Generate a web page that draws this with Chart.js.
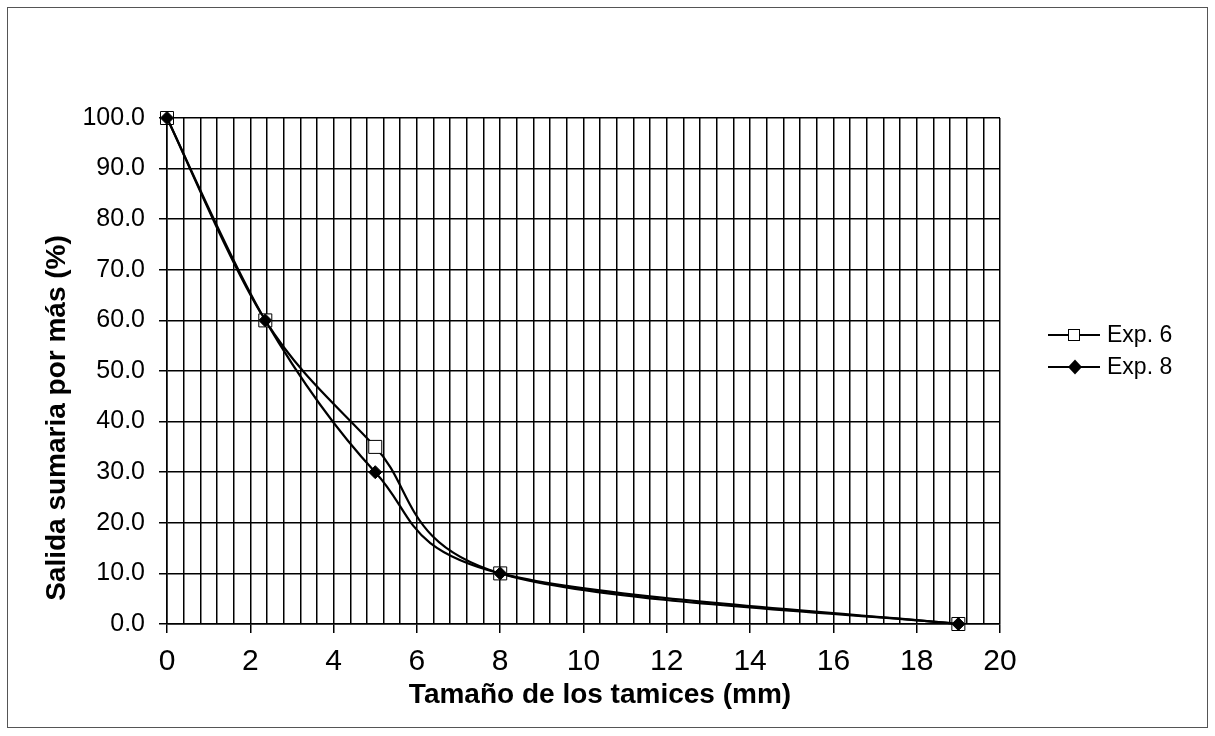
<!DOCTYPE html>
<html><head><meta charset="utf-8">
<script src="https://cdn.jsdelivr.net/npm/chart.js@4.4.0/dist/chart.umd.min.js"></script>
<style>html,body{margin:0;padding:0;background:#fff;}#wrap{width:1215px;height:736px;}</style>
</head><body><div id="wrap"><canvas id="c" width="1215" height="736"></canvas></div>
<script>
// ---- data ----
const sieveSizes = [0, 2.36, 5, 8, 19];
const exp6Values = [100, 60, 35, 10, 0];
const exp8Values = [100, 60, 30, 10, 0];
const seriesLabels = ['Exp. 6', 'Exp. 8'];
const xTitle = 'Tamaño de los tamices (mm)';
const yTitle = 'Salida sumaria por más (%)';

const FONT = "'Liberation Sans', Arial, sans-serif";
const isMajor = v => Math.abs(v / 2 - Math.round(v / 2)) < 1e-6;
const toPoints = vals => sieveSizes.map((x, i) => ({x: x, y: vals[i]}));

// Excel-like smoothing: Catmull-Rom style control points (1/6 of neighbour span)
const smoothPlugin = {
  id: 'excelSmooth',
  afterDatasetUpdate(chart, args) {
    const meta = args.meta;
    const pts = meta.data;
    const n = pts.length;
    for (let i = 0; i < n; i++) {
      const p = pts[i];
      const prev = pts[Math.max(i - 1, 0)];
      const next = pts[Math.min(i + 1, n - 1)];
      const dx = (next.x - prev.x) / 6, dy = (next.y - prev.y) / 6;
      p.cp1x = p.x - dx; p.cp1y = p.y - dy;
      p.cp2x = p.x + dx; p.cp2y = p.y + dy;
    }
    if (meta.dataset) meta.dataset._pointsUpdated = true;
  }
};

const decoPlugin = {
  id: 'deco',
  beforeDraw(chart) {
    const ctx = chart.ctx;
    ctx.save();
    ctx.fillStyle = '#fff';
    ctx.fillRect(0, 0, chart.width, chart.height);
    ctx.strokeStyle = '#555';
    ctx.lineWidth = 1;
    ctx.strokeRect(7.5, 7.5, 1200, 720);
    ctx.restore();
  },
  afterDraw(chart) {
    const ctx = chart.ctx;
    ctx.save();
    ctx.fillStyle = '#000';
    ctx.font = "bold 28px " + FONT;
    ctx.textAlign = 'center';
    ctx.textBaseline = 'middle';
    ctx.fillText(xTitle, 600, 695);
    ctx.translate(57, 418);
    ctx.rotate(-Math.PI / 2);
    ctx.fillText(yTitle, 0, 0);
    ctx.restore();
    // legend
    ctx.save();
    const rows = [335, 367];
    chart.data.datasets.forEach((ds, i) => {
      const y = rows[i];
      ctx.strokeStyle = '#000';
      ctx.lineWidth = 2;
      ctx.beginPath();
      ctx.moveTo(1048, y); ctx.lineTo(1100, y); ctx.stroke();
      ctx.lineWidth = 1;
      if (ds.pointStyle === 'rect') {
        ctx.fillStyle = '#fff';
        ctx.fillRect(1068, y - 5.5, 12, 11);
        ctx.strokeRect(1068.5, y - 5.5, 11, 11);
      } else {
        ctx.fillStyle = '#000';
        ctx.beginPath();
        ctx.moveTo(1075 - 7, y); ctx.lineTo(1075, y - 7.5);
        ctx.lineTo(1075 + 7, y); ctx.lineTo(1075, y + 7.5);
        ctx.closePath(); ctx.fill();
      }
      ctx.fillStyle = '#000';
      ctx.font = "23px " + FONT;
      ctx.textAlign = 'left';
      ctx.textBaseline = 'middle';
      ctx.fillText(ds.label, 1107, y + 1);
    });
    ctx.restore();
  }
};

new Chart(document.getElementById('c'), {
  type: 'scatter',
  data: {
    datasets: [
      {
        label: seriesLabels[0], data: toPoints(exp6Values), showLine: true, clip: false,
        borderColor: '#000', borderWidth: 2.2, tension: 0.4,
        pointStyle: 'rect', pointRadius: 9.2, pointHoverRadius: 9.2,
        pointBackgroundColor: '#fff', pointBorderColor: '#000', pointBorderWidth: 1,
        order: 1
      },
      {
        label: seriesLabels[1], data: toPoints(exp8Values), showLine: true, clip: false,
        borderColor: '#000', borderWidth: 2.2, tension: 0.4,
        pointStyle: 'rectRot', pointRadius: 6.5, pointHoverRadius: 6.5,
        pointBackgroundColor: '#000', pointBorderColor: '#000', pointBorderWidth: 1,
        order: 0
      }
    ]
  },
  options: {
    responsive: false,
    animation: false,
    devicePixelRatio: 1,
    layout: {padding: {left: 8, right: 215, top: 118, bottom: 8}},
    plugins: {legend: {display: false}, tooltip: {enabled: false}},
    scales: {
      x: {
        type: 'linear', position: 'bottom', min: 0, max: 20,
        afterFit: s => { s.height = 104; },
        ticks: {
          stepSize: 0.4, autoSkip: false, maxRotation: 0, minRotation: 0,
          padding: 11, color: '#000', font: {family: FONT, size: 30},
          callback: v => isMajor(v) ? String(Math.round(v)) : ''
        },
        grid: {
          color: '#000', lineWidth: 1.5, tickLength: 9, tickWidth: 1.5,
          tickColor: c => (c.tick && !isMajor(c.tick.value)) ? 'rgba(0,0,0,0)' : '#000'
        },
        border: {color: '#000', width: 1.5}
      },
      y: {
        type: 'linear', position: 'left', min: 0, max: 100,
        afterFit: s => { s.width = 159; },
        ticks: {
          stepSize: 10, padding: 14, color: '#000', font: {family: FONT, size: 25},
          callback: v => Number(v).toFixed(1)
        },
        grid: {color: '#000', lineWidth: 1.5, tickLength: 8, tickWidth: 1.5, tickColor: '#000'},
        border: {color: '#000', width: 1.5}
      }
    }
  },
  plugins: [smoothPlugin, decoPlugin]
});
</script>
</body></html>
